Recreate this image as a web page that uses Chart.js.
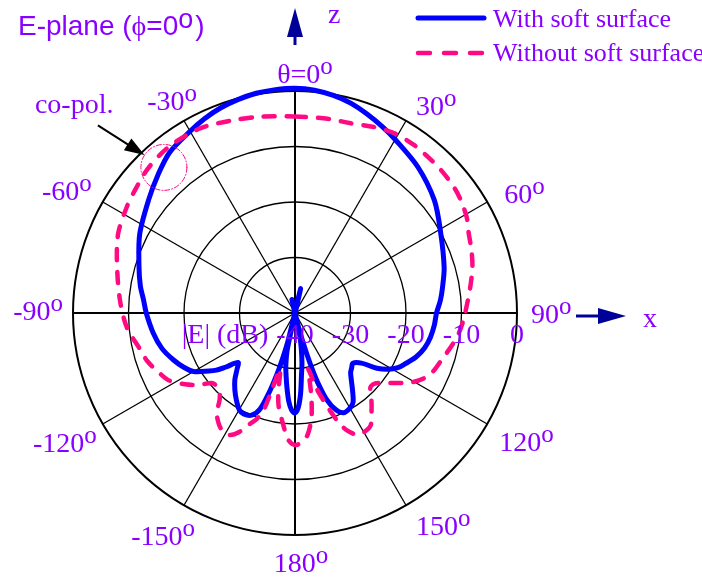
<!DOCTYPE html>
<html>
<head>
<meta charset="utf-8">
<script src="https://cdn.jsdelivr.net/npm/chart.js@4/dist/chart.umd.min.js"></script>
<style>
  html, body { margin: 0; padding: 0; background: #fff; }
  canvas { display: block; }
</style>
</head>
<body>
<canvas id="pattern" width="702" height="580"></canvas>
<script>
// Radial axis (dB) and angular tick labels (degrees, clockwise from +z)
const ringValues = [-40, -30, -20, -10, 0];
const angleTicks = [0, 30, 60, 90, 120, 150, 180, -150, -120, -90, -60, -30];
const seriesNames = ['With soft surface', 'Without soft surface'];

// E-plane pattern with the soft surface: theta (deg) and |E| (dB)
const softAngles = [-180,-178,-176,-174,-172,-170,-168,-167,-166,-165,-164,-163,-162,-160,-157,-153,-150,-146,-142,-138,-134,-131,-128,-126,-124,-120,-116,-111,-105,-98,-90,-85,-80,-73,-63,-52,-45,-38,-30,-25,-20,-15,-10,-5,0,5,10,15,20,25,30,40,51,61,73,80,85,90,95,100,105,110,115,118,121,124,127,131,134,137,140,144,147,150,154,157,160,162,163,164,165,166,167,168,170,172,174,176,178];
const softDb = [-22,-22.5,-24,-26.3,-28.5,-30.5,-33.5,-44.5,-35,-32,-29.5,-27.2,-25,-21.6,-20,-19.6,-19.9,-21.1,-22.4,-23.8,-25.5,-26.4,-24.2,-22.5,-21.3,-18.9,-17.7,-16.5,-15.2,-14.2,-13.2,-12.6,-11.7,-10.6,-8.6,-6.6,-5,-3.3,-2.2,-1.4,-0.7,-0.2,0.2,0.4,0.5,0.3,-0.2,-0.9,-1.9,-2.9,-3.9,-5.6,-7.7,-10,-11.9,-13,-13.7,-14.5,-14.8,-15.2,-15.8,-16.8,-18.2,-19,-20.3,-22.2,-25,-26.2,-25.8,-25.3,-24.2,-22.3,-20.8,-20.2,-20,-21,-23.5,-27,-29.5,-32.5,-35,-37.5,-42.5,-36,-33.5,-31,-28.8,-25.5,-23];

// E-plane pattern without the soft surface
const plainAngles = [-180,-177,-173,-170,-168,-167,-166,-165,-164,-163,-162,-160,-158,-155,-152,-149,-146,-142,-139,-136,-133,-130,-127,-123,-118,-114,-108,-103,-95,-86,-75,-66,-58,-52,-46,-40,-35,-27,-18,-10,0,10,16,23,29,35,40,46,52,56,61,65,70,75,80,86,93,98,102,108,113,117,121,125,128,131,134,136,139,142,146,150,153,156,158,160,162,164,166,167,168,169,171,174,177];
const plainDb = [-16.2,-17.1,-20.6,-23,-25.5,-27.5,-29,-29.6,-28,-24.5,-21.5,-19.6,-18.5,-16.4,-15.1,-15,-15.6,-17.1,-19.3,-20.4,-20.7,-20.4,-18.5,-16.4,-14.2,-13.3,-12,-11.3,-9.6,-8.4,-6.8,-5.1,-4.2,-3.6,-2.9,-2.5,-2.4,-2.6,-3.5,-4.1,-4.6,-4.5,-4.4,-3.6,-3,-2.9,-3.05,-3.2,-3.5,-3.9,-4.6,-5.5,-6.2,-6.9,-7.8,-8.8,-9.7,-10.4,-11.2,-12.3,-13,-14,-15.7,-18,-19.5,-20.7,-21,-20.5,-19,-17.6,-15.6,-15.2,-15.4,-16.8,-18.5,-21,-23.5,-25.8,-29,-29.7,-27,-24.5,-21,-18,-16.7];

// One radar slot per degree; measured samples land in their slot, the rest stay empty
const degreeSlots = Array.from({ length: 360 }, (_, i) => i);
function toSlots(angles, values) {
  const out = new Array(360).fill(null);
  angles.forEach((a, k) => { out[(a + 360) % 360] = values[k]; });
  return out;
}

const SERIF = '"Liberation Serif", "Times New Roman", serif';
const SANS = '"Liberation Sans", Arial, sans-serif';
const PURPLE = '#8a00ff';
const BLUE = '#0000ff';
const PINK = '#ff0a82';
const NAVY = '#000099';

// text followed by a raised "o" degree mark
function degText(ctx, str, x, y, size, align, family, raise, supScale) {
  ctx.font = size + 'px ' + family;
  const w1 = ctx.measureText(str).width;
  const sup = Math.round(size * supScale);
  ctx.font = sup + 'px ' + family;
  const w2 = ctx.measureText('o').width;
  const total = w1 + w2;
  const left = align === 'left' ? x : align === 'right' ? x - total : x - total / 2;
  ctx.textAlign = 'left';
  ctx.textBaseline = 'alphabetic';
  ctx.font = size + 'px ' + family;
  ctx.fillText(str, left, y);
  ctx.font = sup + 'px ' + family;
  ctx.fillText('o', left + w1, y - size * raise);
  return left + total;
}

// label anchor relative to the end of each spoke: [align, dx, dy]
const angleLabelPlacement = {
  '0': ['center', 10, -8], '30': ['left', 10, -6], '60': ['left', 17, 1],
  '90': ['left', 14, 10], '120': ['left', 12, 27], '150': ['left', 10, 30],
  '180': ['center', 6, 37], '-150': ['right', 11, 40], '-120': ['right', -6, 28],
  '-90': ['right', -10, 7], '-60': ['right', -11, -2], '-30': ['right', 13, -11]
};

function arrowHead(ctx, tipX, tipY, dirX, dirY, len, half) {
  const n = Math.hypot(dirX, dirY); const ux = dirX / n, uy = dirY / n;
  const bx = tipX - ux * len, by = tipY - uy * len;
  ctx.beginPath();
  ctx.moveTo(tipX, tipY);
  ctx.lineTo(bx - uy * half, by + ux * half);
  ctx.lineTo(bx + uy * half, by - ux * half);
  ctx.closePath();
  ctx.fill();
}

const overlay = {
  id: 'overlay',
  afterDraw(chart) {
    const ctx = chart.ctx;
    const r = chart.scales.r;
    const R = r.drawingArea, cx = r.xCenter, cy = r.yCenter;
    ctx.save();

    // angle labels
    ctx.fillStyle = PURPLE;
    angleTicks.forEach(a => {
      const end = r.getPointPosition((a + 360) % 360, R);
      const [align, dx, dy] = angleLabelPlacement[String(a)];
      degText(ctx, a === 0 ? 'θ=0' : String(a), end.x + dx, end.y + dy, 28, align, SERIF, 0.33, 0.9);
    });

    // radial tick labels along the +x spoke
    ctx.font = '28px ' + SERIF;
    ctx.textAlign = 'center';
    ctx.textBaseline = 'alphabetic';
    ringValues.forEach(v => {
      ctx.fillText(String(v), cx + r.getDistanceFromCenterForValue(v), cy + 30);
    });
    const firstW = ctx.measureText(String(ringValues[0])).width;
    ctx.textAlign = 'right';
    ctx.fillText('|E| (dB)', cx - firstW / 2 - 8, cy + 30);

    // title
    ctx.textAlign = 'left';
    let x = 18;
    ctx.font = '28px ' + SANS;
    ctx.fillText('E-plane (', x, 35); x += ctx.measureText('E-plane (').width;
    ctx.font = '28px ' + SERIF;
    ctx.fillText('ϕ', x, 35); x += ctx.measureText('ϕ').width;
    x = degText(ctx, '=0', x, 35, 28, 'left', SANS, 0.25, 0.95);
    ctx.font = '28px ' + SANS;
    ctx.fillText(')', x + 2, 35);

    // coordinate arrows
    ctx.fillStyle = NAVY; ctx.strokeStyle = NAVY; ctx.lineWidth = 3;
    const top = cy - R;
    ctx.beginPath(); ctx.moveTo(cx, top - 46); ctx.lineTo(cx, top - 60); ctx.stroke();
    arrowHead(ctx, cx, top - 83, 0, -1, 29, 8);
    const right = cx + R;
    ctx.beginPath(); ctx.moveTo(right + 59, cy + 3); ctx.lineTo(right + 84, cy + 3); ctx.stroke();
    arrowHead(ctx, right + 109, cy + 3, 1, 0, 28, 8);
    ctx.fillStyle = PURPLE;
    ctx.font = '28px ' + SERIF;
    ctx.textAlign = 'left';
    ctx.fillText('z', cx + 33, top - 68);
    ctx.fillText('x', right + 126, cy + 14);

    // legend
    const lx0 = 418, lx1 = 484, tx = 493;
    ctx.lineCap = 'round';
    ctx.strokeStyle = BLUE; ctx.lineWidth = 5;
    ctx.beginPath(); ctx.moveTo(lx0, 18); ctx.lineTo(lx1, 18); ctx.stroke();
    ctx.strokeStyle = PINK; ctx.lineWidth = 4.5; ctx.setLineDash([12, 14]);
    ctx.beginPath(); ctx.moveTo(lx0, 53); ctx.lineTo(lx1 + 4, 53); ctx.stroke();
    ctx.setLineDash([]);
    ctx.fillStyle = PURPLE;
    ctx.font = '26px ' + SERIF;
    ctx.fillText(seriesNames[0], tx, 27);
    ctx.fillText(seriesNames[1], tx, 61);

    // co-pol. callout
    const mark = r.getPointPosition(318, r.getDistanceFromCenterForValue(-4.7));
    ctx.strokeStyle = PINK; ctx.lineWidth = 1; ctx.setLineDash([5, 2, 1, 2]);
    ctx.beginPath(); ctx.arc(mark.x, mark.y, 23, 0, Math.PI * 2); ctx.stroke();
    ctx.setLineDash([]);
    const tail = { x: mark.x - 66, y: mark.y - 42 };
    const d = Math.hypot(66, 42);
    const tip = { x: mark.x - 66 / d * 23, y: mark.y - 42 / d * 23 };
    ctx.strokeStyle = '#000'; ctx.fillStyle = '#000'; ctx.lineWidth = 2; ctx.lineCap = 'butt';
    ctx.beginPath(); ctx.moveTo(tail.x, tail.y); ctx.lineTo(tip.x - 66 / d * 12, tip.y - 42 / d * 12); ctx.stroke();
    arrowHead(ctx, tip.x, tip.y, 66, 42, 20, 7);
    ctx.fillStyle = PURPLE;
    ctx.font = '28px ' + SERIF;
    ctx.fillText('co-pol.', mark.x - 129, mark.y - 54);

    ctx.restore();
  }
};

new Chart(document.getElementById('pattern'), {
  type: 'radar',
  data: {
    labels: degreeSlots,
    datasets: [
      {
        label: seriesNames[0],
        data: toSlots(softAngles, softDb),
        borderColor: BLUE, borderWidth: 5, borderJoinStyle: 'round', borderCapStyle: 'round',
        fill: false, pointRadius: 0, spanGaps: true, tension: 0.3, order: 1
      },
      {
        label: seriesNames[1],
        data: toSlots(plainAngles, plainDb),
        borderColor: PINK, borderWidth: 4.5, borderDash: [11, 12], borderCapStyle: 'round',
        fill: false, pointRadius: 0, spanGaps: true, tension: 0.3, order: 0
      }
    ]
  },
  options: {
    responsive: false,
    animation: false,
    events: [],
    layout: { padding: { left: 73, top: 91, right: 185, bottom: 45 } },
    plugins: { legend: { display: false }, tooltip: { enabled: false } },
    scales: {
      r: {
        min: -40, max: 0, startAngle: 0,
        ticks: { display: false, stepSize: 10 },
        pointLabels: { display: false },
        grid: { circular: true, color: '#000', lineWidth: c => c.index === 0 ? 0 : (c.index === 4 ? 2 : 1.3) },
        angleLines: { color: '#000', lineWidth: c => c.index % 30 ? 0 : (c.index % 90 ? 1.3 : 2) }
      }
    }
  },
  plugins: [overlay]
});
</script>
</body>
</html>
